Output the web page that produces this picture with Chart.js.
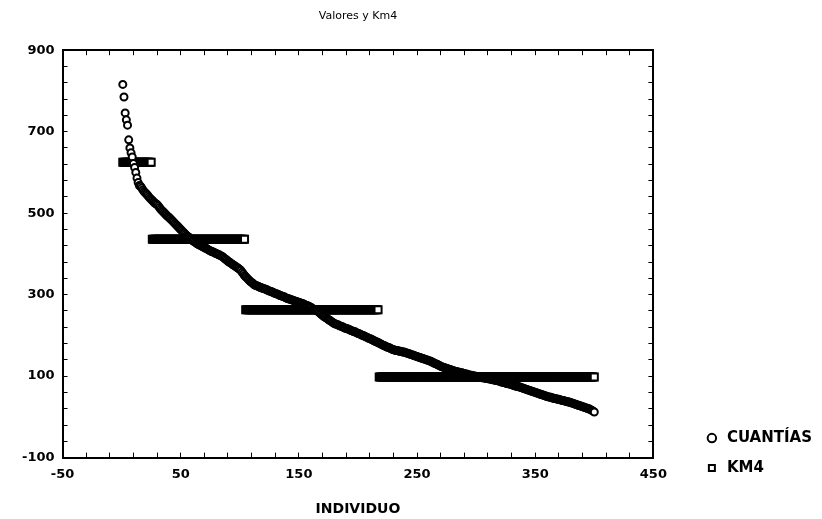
<!DOCTYPE html>
<html>
<head>
<meta charset="utf-8">
<script src="https://cdn.jsdelivr.net/npm/chart.js@4/dist/chart.umd.min.js"></script>
<style>
  body { margin: 0; background: #fff; }
</style>
</head>
<body>
<canvas id="chart" width="822" height="519"></canvas>
<script>
// CUANTÍAS por individuo (1..400), ordenadas de mayor a menor
const cuantias = [
  816, 785, 746, 729, 716, 680, 660, 648, 638, 622, 612, 600, 586, 575, 568, 566, 562, 557, 553, 550,
  547, 544, 540, 537, 534, 531, 528, 525, 523, 521, 518, 514, 510, 507, 504, 501, 498, 495, 492, 490,
  487, 484, 481, 478, 475, 472, 469, 466, 463, 460, 457, 454, 451, 448, 445, 443, 441, 438, 436, 433,
  431, 429, 427, 425, 423, 422, 420, 419, 417, 416, 414, 413, 411, 409, 408, 406, 405, 404, 402, 401,
  400, 398, 397, 395, 394, 392, 389, 387, 385, 382, 380, 378, 376, 374, 372, 370, 368, 366, 364, 362,
  359, 355, 351, 347, 344, 341, 338, 335, 332, 330, 328, 325, 323, 322, 321, 320, 318, 317, 316, 315,
  314, 313, 312, 310, 309, 308, 307, 306, 304, 303, 302, 301, 300, 298, 297, 296, 295, 294, 292, 291,
  290, 289, 288, 287, 286, 285, 284, 283, 282, 281, 280, 279, 278, 277, 275, 274, 273, 272, 270, 269,
  267, 265, 264, 262, 261, 259, 257, 254, 252, 249, 247, 245, 243, 241, 239, 237, 235, 233, 231, 229,
  228, 227, 226, 224, 223, 222, 221, 219, 218, 217, 216, 215, 214, 212, 211, 210, 209, 208, 206, 205,
  204, 203, 201, 200, 199, 197, 196, 195, 193, 192, 191, 189, 188, 186, 185, 184, 182, 181, 179, 178,
  176, 175, 174, 172, 171, 170, 169, 167, 166, 165, 164, 163, 163, 162, 161, 161, 160, 159, 159, 158,
  157, 156, 155, 154, 153, 152, 151, 150, 149, 148, 147, 146, 145, 144, 143, 142, 141, 140, 139, 138,
  137, 136, 134, 133, 131, 130, 129, 127, 126, 124, 123, 122, 121, 120, 119, 118, 117, 116, 115, 114,
  113, 112, 111, 111, 110, 109, 108, 108, 107, 106, 105, 105, 104, 103, 102, 102, 101, 100, 100, 99,
  98, 98, 97, 97, 96, 96, 95, 95, 94, 94, 93, 93, 92, 91, 91, 90, 89, 89, 88, 87,
  86, 85, 85, 84, 83, 82, 81, 81, 80, 79, 78, 77, 76, 75, 75, 74, 73, 72, 71, 70,
  69, 68, 67, 66, 65, 64, 63, 62, 61, 60, 59, 58, 57, 56, 55, 54, 53, 52, 51, 50,
  49, 49, 48, 47, 46, 45, 45, 44, 43, 43, 42, 41, 40, 40, 39, 38, 37, 37, 36, 35,
  34, 33, 32, 31, 30, 29, 28, 27, 26, 25, 24, 23, 22, 21, 20, 19, 17, 16, 14, 12
];

// Km4: centro de cada grupo y rango de individuos que lo forman
const kmValues = [625, 436, 263, 98];
const kmFirst = [1, 26, 105, 218];
const kmLast = [25, 104, 217, 400];

const xLabels = [-50, 50, 150, 250, 350, 450];
const yLabels = [-100, 100, 300, 500, 700, 900];

const cuantiasPts = cuantias.map((v, i) => ({ x: i + 1, y: v }));
const kmPts = [];
for (let k = 0; k < kmValues.length; k++) {
  for (let i = kmFirst[k]; i <= kmLast[k]; i++) {
    kmPts.push({ x: i, y: kmValues[k] });
  }
}

Chart.defaults.font.family = 'DejaVu Sans';
Chart.defaults.color = '#000';

const tickFont = { family: 'DejaVu Sans', size: 13, weight: 'bold' };

// la leyenda va abajo a la derecha, un poco por debajo del eje X
const legendShift = {
  id: 'legendShift',
  beforeDraw(chart) {
    chart.legend.bottom = chart.chartArea.bottom + 33;
  }
};

new Chart('chart', {
  type: 'scatter',
  data: {
    datasets: [{
      label: 'CUANTÍAS',
      data: cuantiasPts,
      pointStyle: 'circle',
      pointRadius: 3.5,
      pointBorderWidth: 2,
      borderColor: '#000',
      backgroundColor: '#fff'
    }, {
      label: 'KM4',
      data: kmPts,
      pointStyle: 'rect',
      pointRadius: 5,
      pointBorderWidth: 2,
      borderColor: '#000',
      backgroundColor: '#fff'
    }]
  },
  options: {
    responsive: false,
    animation: false,
    layout: {
      padding: { left: 9, right: 0, top: 0, bottom: 0 }
    },
    plugins: {
      title: {
        display: true,
        text: 'Valores y Km4',
        fullSize: false,
        font: { size: 11, weight: 'normal' },
        padding: { top: 10, bottom: 27 }
      },
      legend: {
        position: 'right',
        align: 'end',
        labels: {
          usePointStyle: true,
          boxWidth: 15,
          boxHeight: 6,
          padding: 15,
          font: { size: 15, weight: 'bold' }
        }
      },
      tooltip: { enabled: false }
    },
    scales: {
      x: {
        type: 'linear',
        position: 'bottom',
        min: -50,
        max: 450,
        border: { display: true, color: '#000', width: 2 },
        grid: { drawOnChartArea: false, color: '#000', tickLength: -5 },
        ticks: {
          stepSize: 20,
          padding: 14,
          maxRotation: 0,
          autoSkip: false,
          font: tickFont,
          callback: v => xLabels.includes(Math.round(v)) ? Math.round(v) : ''
        },
        title: {
          display: true,
          text: 'INDIVIDUO',
          font: { size: 14, weight: 'bold' },
          padding: { top: 5, bottom: 1 }
        }
      },
      x2: {
        type: 'linear',
        position: 'top',
        min: -50,
        max: 450,
        border: { display: true, color: '#000', width: 2 },
        grid: { drawOnChartArea: false, color: '#000', tickLength: -5 },
        ticks: { display: false, stepSize: 20 },
        afterFit: s => { s.height = 0; }
      },
      y: {
        type: 'linear',
        position: 'left',
        min: -100,
        max: 900,
        border: { display: true, color: '#000', width: 2 },
        grid: { drawOnChartArea: false, color: '#000', tickLength: -5 },
        ticks: {
          stepSize: 40,
          padding: 13,
          autoSkip: false,
          font: tickFont,
          callback: v => yLabels.includes(Math.round(v)) ? Math.round(v) : ''
        }
      },
      y2: {
        type: 'linear',
        position: 'right',
        min: -100,
        max: 900,
        border: { display: true, color: '#000', width: 2 },
        grid: { drawOnChartArea: false, color: '#000', tickLength: -5 },
        ticks: { display: false, stepSize: 40 },
        afterFit: s => { s.width = 36; }
      }
    }
  },
  plugins: [legendShift]
});
</script>
</body>
</html>
